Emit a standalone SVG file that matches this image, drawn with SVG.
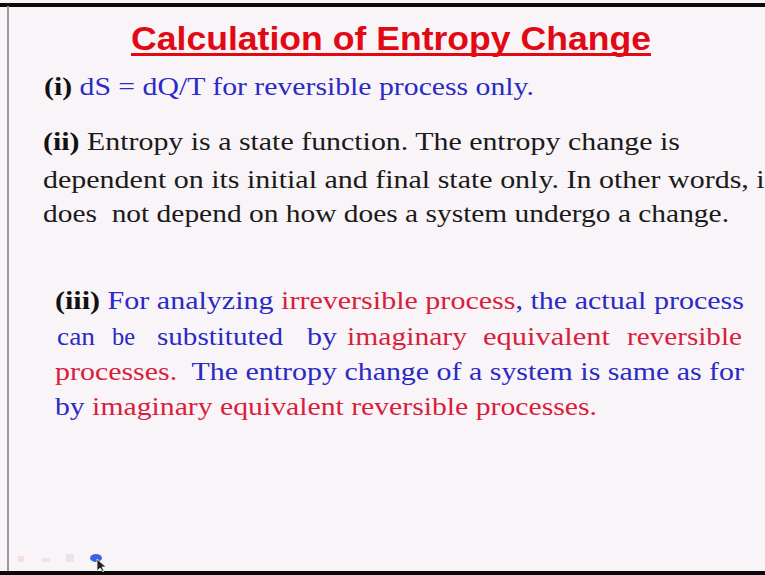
<svg xmlns="http://www.w3.org/2000/svg" width="765" height="575" viewBox="0 0 765 575">
  <style>
    .body { font-family: "Liberation Serif", "Times New Roman", serif; font-size: 25px; fill: #1a1a1a; }
    .b { font-weight: bold; fill: #111; }
    .blue { fill: #2a2ac4; }
    .red { fill: #d81e3c; }
    .title { font-family: "Liberation Sans", Arial, sans-serif; font-weight: bold; font-size: 33px; fill: #e10a14; }
  </style>

  <!-- slide background and frame -->
  <rect x="0" y="0" width="765" height="575" fill="#f9f4f7"/>
  <rect x="0" y="3" width="765" height="4" fill="#0a0a0a"/>
  <rect x="7" y="6" width="2" height="566" fill="#9a9a9a"/>
  <rect x="0" y="571" width="765" height="4" fill="#0a0a0a"/>

  <!-- heading -->
  <g id="title">
    <text class="title" x="131" y="50" textLength="520" lengthAdjust="spacingAndGlyphs">Calculation of Entropy Change</text>
    <rect x="131" y="53" width="520" height="3" fill="#e10a14"/>
  </g>

  <!-- point (i) -->
  <g id="point-i">
    <text class="body" x="44" y="95" textLength="490" lengthAdjust="spacingAndGlyphs"><tspan class="b">(i)</tspan> <tspan class="blue">dS = dQ/T for reversible process only.</tspan></text>
  </g>

  <!-- point (ii) -->
  <g id="point-ii">
    <text class="body" x="43" y="150" textLength="637" lengthAdjust="spacingAndGlyphs"><tspan class="b">(ii)</tspan> Entropy is a state function. The entropy change is</text>
    <text class="body" x="43" y="188" textLength="730" lengthAdjust="spacingAndGlyphs">dependent on its initial and final state only. In other words, it</text>
    <text class="body" x="43" y="222" textLength="686" lengthAdjust="spacingAndGlyphs" xml:space="preserve">does  not depend on how does a system undergo a change.</text>
  </g>

  <!-- point (iii) -->
  <g id="point-iii">
    <text class="body" x="55" y="309" textLength="689" lengthAdjust="spacingAndGlyphs"><tspan class="b">(iii)</tspan> <tspan class="blue">For analyzing </tspan><tspan class="red">irreversible process</tspan><tspan class="blue">, the actual process</tspan></text>
    <!-- justified line: words placed one by one -->
    <text class="body" y="345">
      <tspan class="blue" x="57" textLength="38" lengthAdjust="spacingAndGlyphs">can</tspan>
      <tspan class="blue" x="112" textLength="23" lengthAdjust="spacingAndGlyphs">be</tspan>
      <tspan class="blue" x="157" textLength="126" lengthAdjust="spacingAndGlyphs">substituted</tspan>
      <tspan class="blue" x="307" textLength="30" lengthAdjust="spacingAndGlyphs">by</tspan>
      <tspan class="red" x="347" textLength="120" lengthAdjust="spacingAndGlyphs">imaginary</tspan>
      <tspan class="red" x="483" textLength="127" lengthAdjust="spacingAndGlyphs">equivalent</tspan>
      <tspan class="red" x="627" textLength="115" lengthAdjust="spacingAndGlyphs">reversible</tspan>
    </text>
    <text class="body" x="55" y="380" textLength="689" lengthAdjust="spacingAndGlyphs" xml:space="preserve"><tspan class="red">processes.</tspan><tspan class="blue">  The entropy change of a system is same as for</tspan></text>
    <text class="body" x="55" y="415" textLength="542" lengthAdjust="spacingAndGlyphs"><tspan class="blue">by </tspan><tspan class="red">imaginary equivalent reversible processes.</tspan></text>
  </g>

  <!-- faint player controls and pointer in the lower left -->
  <g id="controls" opacity="0.25">
    <rect x="18" y="556" width="6" height="6" fill="#e8a0b0"/>
    <rect x="42" y="558" width="8" height="4" fill="#c0c0c0"/>
    <rect x="66" y="554" width="8" height="8" fill="#d0b0c0"/>
  </g>
  <g id="pointer">
    <ellipse cx="96" cy="558" rx="6" ry="4" fill="#3a66e0"/>
    <path d="M97 559 L97 571 L100 568 L103 572 L104 571 L102 567 L106 567 Z" fill="#222" stroke="#eee" stroke-width="0.8"/>
  </g>
</svg>
